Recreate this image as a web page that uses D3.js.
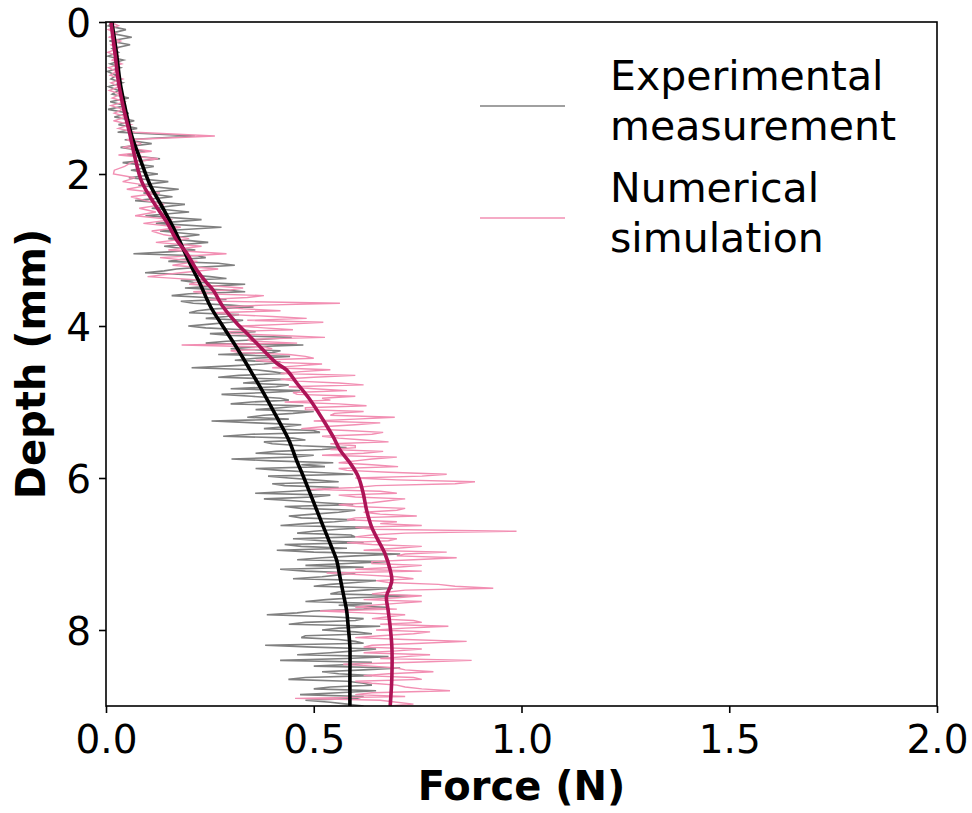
<!DOCTYPE html>
<html>
<head>
<meta charset="utf-8">
<script src="https://cdn.jsdelivr.net/npm/d3@7"></script>
<style>
  html, body { margin: 0; padding: 0; background: #fff; }
  svg { display: block; }
  text { font-family: "DejaVu Sans", sans-serif; }
</style>
</head>
<body>
<svg id="chart" width="972" height="813"></svg>
<script>
// ---------- DATA ----------
const xTicks = [0, 0.5, 1.0, 1.5, 2.0];
const yTicks = [0, 2, 4, 6, 8];
const legendLabels = [["Experimental", "measurement"], ["Numerical", "simulation"]];

// Experimental measurement trace: [depth (mm), force (N)]
const expTrace = [
  [0.00,0.020],[0.05,0.005],[0.10,0.048],[0.15,0.012],[0.20,0.062],[0.25,0.008],[0.30,0.058],[0.35,0.015],
  [0.40,0.030],[0.45,0.004],[0.50,0.042],[0.55,0.010],[0.60,0.035],[0.65,0.003],[0.70,0.025],[0.75,0.012],
  [0.80,0.040],[0.85,0.006],[0.90,0.030],[0.95,0.015],[1.00,0.055],[1.05,0.010],[1.10,0.048],[1.15,0.005],
  [1.20,0.055],[1.25,0.020],[1.30,0.068],[1.35,0.030],[1.40,0.075],[1.45,0.028],[1.50,0.214],[1.55,0.045],
  [1.60,0.110],[1.65,0.035],[1.70,0.095],[1.75,0.050],[1.80,0.130],[1.85,0.040],[1.90,0.115],[1.95,0.060],
  [2.00,0.125],[2.05,0.055],[2.10,0.150],[2.15,0.078],[2.20,0.175],[2.25,0.090],[2.30,0.160],[2.35,0.070],
  [2.40,0.190],[2.45,0.110],[2.50,0.200],[2.55,0.095],[2.60,0.230],[2.65,0.120],[2.70,0.278],[2.75,0.130],
  [2.80,0.225],[2.85,0.150],[2.90,0.246],[2.95,0.140],[3.00,0.215],[3.05,0.066],[3.10,0.240],[3.15,0.150],
  [3.20,0.310],[3.25,0.170],[3.30,0.094],[3.35,0.250],[3.40,0.180],[3.45,0.335],[3.50,0.190],[3.55,0.335],
  [3.60,0.158],[3.65,0.290],[3.70,0.210],[3.75,0.355],[3.80,0.220],[3.85,0.320],[3.90,0.240],[3.95,0.300],
  [4.00,0.198],[4.05,0.330],[4.10,0.250],[4.15,0.447],[4.20,0.290],[4.25,0.475],[4.30,0.300],[4.35,0.400],
  [4.40,0.443],[4.45,0.310],[4.50,0.380],[4.55,0.206],[4.60,0.400],[4.65,0.320],[4.70,0.430],[4.75,0.330],
  [4.80,0.410],[4.85,0.467],[4.90,0.278],[4.95,0.420],[5.00,0.350],[5.05,0.475],[5.10,0.360],[5.15,0.450],
  [5.20,0.340],[5.25,0.254],[5.30,0.470],[5.35,0.380],[5.40,0.515],[5.45,0.282],[5.50,0.480],[5.55,0.400],
  [5.60,0.579],[5.65,0.410],[5.70,0.500],[5.75,0.302],[5.80,0.547],[5.85,0.527],[5.90,0.420],[5.95,0.595],
  [6.00,0.440],[6.05,0.560],[6.10,0.430],[6.15,0.520],[6.20,0.359],[6.25,0.500],[6.30,0.450],[6.35,0.595],
  [6.40,0.470],[6.45,0.560],[6.50,0.440],[6.55,0.600],[6.60,0.480],[6.65,0.643],[6.70,0.500],[6.75,0.590],
  [6.80,0.450],[6.85,0.620],[6.90,0.470],[6.95,0.411],[7.00,0.708],[7.05,0.520],[7.10,0.675],[7.15,0.480],
  [7.20,0.419],[7.25,0.600],[7.30,0.520],[7.35,0.650],[7.40,0.540],[7.45,0.690],[7.50,0.560],[7.55,0.736],
  [7.60,0.530],[7.65,0.640],[7.70,0.675],[7.75,0.500],[7.80,0.387],[7.85,0.620],[7.90,0.480],[7.95,0.660],
  [8.00,0.520],[8.05,0.640],[8.10,0.470],[8.15,0.600],[8.20,0.383],[8.25,0.650],[8.30,0.540],[8.35,0.680],
  [8.40,0.419],[8.45,0.600],[8.50,0.708],[8.55,0.520],[8.60,0.640],[8.65,0.439],[8.70,0.620],[8.75,0.540],
  [8.80,0.650],[8.85,0.467],[8.90,0.603],[8.95,0.540],[9.00,0.620]
];
// Additional experimental samples in between (deeper part, denser noise)
const expTraceExtra = [
  [3.025,0.150],[3.075,0.220],[3.125,0.180],[3.175,0.270],[3.225,0.230],[3.275,0.140],[3.325,0.200],[3.375,0.290],
  [3.425,0.210],[3.475,0.260],[3.525,0.280],[3.575,0.200],[3.625,0.240],[3.675,0.180],[3.725,0.300],[3.775,0.260],
  [3.825,0.200],[3.875,0.290],[3.925,0.330],[3.975,0.250],[4.025,0.240],[4.075,0.360],[4.125,0.300],[4.175,0.380],
  [4.225,0.240],[4.275,0.350],[4.325,0.420],[4.375,0.270],[4.425,0.360],[4.475,0.420],[4.525,0.300],[4.575,0.360],
  [4.625,0.430],[4.675,0.270],[4.725,0.380],[4.775,0.440],[4.825,0.300],[4.875,0.390],[4.925,0.350],[4.975,0.440],
  [5.025,0.300],[5.075,0.420],[5.125,0.500],[5.175,0.380],[5.225,0.440],[5.275,0.360],[5.325,0.430],[5.375,0.500],
  [5.425,0.350],[5.475,0.450],[5.525,0.380],[5.575,0.470],[5.625,0.520],[5.675,0.360],[5.725,0.450],[5.775,0.400],
  [5.825,0.470],[5.875,0.360],[5.925,0.500],[5.975,0.390],[6.025,0.500],[6.075,0.400],[6.125,0.560],[6.175,0.450],
  [6.225,0.540],[6.275,0.380],[6.325,0.520],[6.375,0.430],[6.425,0.600],[6.475,0.500],[6.525,0.470],[6.575,0.550],
  [6.625,0.420],[6.675,0.560],[6.725,0.460],[6.775,0.600],[6.825,0.520],[6.875,0.430],[6.925,0.580],[6.975,0.500],
  [7.025,0.600],[7.075,0.460],[7.125,0.580],[7.175,0.620],[7.225,0.480],[7.275,0.560],[7.325,0.450],[7.375,0.600],
  [7.425,0.500],[7.475,0.620],[7.525,0.540],[7.575,0.600],[7.625,0.480],[7.675,0.560],[7.725,0.620],[7.775,0.460],
  [7.825,0.540],[7.875,0.600],[7.925,0.440],[7.975,0.560],[8.025,0.600],[8.075,0.480],[8.125,0.560],[8.175,0.620],
  [8.225,0.500],[8.275,0.600],[8.325,0.460],[8.375,0.580],[8.425,0.640],[8.475,0.500],[8.525,0.620],[8.575,0.560],
  [8.625,0.480],[8.675,0.580],[8.725,0.640],[8.775,0.500],[8.825,0.560],[8.875,0.620],[8.925,0.480],[8.975,0.580]
];

// Numerical simulation trace: [depth (mm), force (N)]
const simTrace = [
  [0.00,0.010],[0.05,0.030],[0.10,0.005],[0.15,0.025],[0.20,0.008],[0.25,0.035],[0.30,0.012],[0.35,0.028],
  [0.40,0.004],[0.45,0.030],[0.50,0.015],[0.55,0.038],[0.60,0.006],[0.65,0.025],[0.70,0.010],[0.75,0.040],
  [0.80,0.012],[0.85,0.032],[0.90,0.008],[0.95,0.035],[1.00,0.015],[1.05,0.045],[1.10,0.012],[1.15,0.040],
  [1.20,0.020],[1.25,0.050],[1.30,0.018],[1.35,0.060],[1.40,0.030],[1.45,0.070],[1.50,0.262],[1.55,0.050],
  [1.60,0.085],[1.65,0.040],[1.70,0.110],[1.75,0.030],[1.80,0.125],[1.85,0.060],[1.90,0.045],[1.95,0.020],
  [2.00,0.018],[2.05,0.070],[2.10,0.040],[2.15,0.100],[2.20,0.050],[2.25,0.130],[2.30,0.060],[2.35,0.095],
  [2.40,0.140],[2.45,0.080],[2.50,0.120],[2.55,0.070],[2.60,0.160],[2.65,0.090],[2.70,0.180],[2.75,0.110],
  [2.80,0.140],[2.85,0.200],[2.90,0.120],[2.95,0.230],[3.00,0.150],[3.05,0.290],[3.10,0.130],[3.15,0.220],
  [3.20,0.160],[3.25,0.270],[3.30,0.180],[3.35,0.100],[3.40,0.240],[3.45,0.200],[3.50,0.330],[3.55,0.210],
  [3.60,0.380],[3.65,0.250],[3.70,0.563],[3.75,0.280],[3.80,0.420],[3.85,0.300],[3.90,0.483],[3.95,0.523],
  [4.00,0.320],[4.05,0.450],[4.10,0.300],[4.15,0.527],[4.20,0.350],[4.25,0.182],[4.30,0.400],[4.35,0.320],
  [4.40,0.480],[4.45,0.360],[4.50,0.520],[4.55,0.400],[4.60,0.470],[4.65,0.600],[4.70,0.420],[4.75,0.560],
  [4.80,0.440],[4.85,0.580],[4.90,0.460],[4.95,0.520],[5.00,0.430],[5.05,0.627],[5.10,0.480],[5.15,0.550],
  [5.20,0.695],[5.25,0.500],[5.30,0.600],[5.35,0.470],[5.40,0.667],[5.45,0.520],[5.50,0.620],[5.55,0.540],
  [5.60,0.600],[5.65,0.667],[5.70,0.520],[5.75,0.640],[5.80,0.560],[5.85,0.703],[5.90,0.580],[5.95,0.820],
  [6.00,0.600],[6.05,0.888],[6.10,0.650],[6.15,0.491],[6.20,0.700],[6.25,0.600],[6.30,0.680],[6.35,0.560],
  [6.40,0.720],[6.45,0.620],[6.50,0.748],[6.55,0.580],[6.60,0.660],[6.65,0.600],[6.70,0.988],[6.75,0.640],
  [6.80,0.700],[6.85,0.580],[6.90,0.760],[6.95,0.620],[7.00,0.720],[7.05,0.844],[7.10,0.640],[7.15,0.760],
  [7.20,0.600],[7.25,0.531],[7.30,0.700],[7.35,0.650],[7.40,0.800],[7.45,0.932],[7.50,0.680],[7.55,0.760],
  [7.60,0.620],[7.65,0.700],[7.70,0.600],[7.75,0.515],[7.80,0.720],[7.85,0.640],[7.90,0.760],[7.95,0.824],
  [8.00,0.650],[8.05,0.740],[8.10,0.600],[8.15,0.868],[8.20,0.640],[8.25,0.760],[8.30,0.620],[8.35,0.720],
  [8.40,0.880],[8.45,0.571],[8.50,0.700],[8.55,0.788],[8.60,0.620],[8.65,0.760],[8.70,0.640],[8.75,0.720],
  [8.80,0.828],[8.85,0.600],[8.90,0.455],[8.95,0.700],[9.00,0.680]
];
// Additional simulation samples in between (deeper part, denser noise)
const simTraceExtra = [
  [3.525,0.300],[3.575,0.240],[3.625,0.340],[3.675,0.280],[3.725,0.380],[3.775,0.330],[3.825,0.260],[3.875,0.400],
  [3.925,0.340],[3.975,0.440],[4.025,0.380],[4.075,0.290],[4.125,0.420],[4.175,0.340],[4.225,0.460],[4.275,0.380],
  [4.325,0.300],[4.375,0.440],[4.425,0.500],[4.475,0.400],[4.525,0.460],[4.575,0.540],[4.625,0.420],[4.675,0.500],
  [4.725,0.460],[4.775,0.620],[4.825,0.500],[4.875,0.450],[4.925,0.600],[4.975,0.540],[5.025,0.560],[5.075,0.480],
  [5.125,0.620],[5.175,0.540],[5.225,0.600],[5.275,0.660],[5.325,0.520],[5.375,0.580],[5.425,0.640],[5.475,0.560],
  [5.525,0.680],[5.575,0.600],[5.625,0.540],[5.675,0.620],[5.725,0.700],[5.775,0.600],[5.825,0.640],[5.875,0.560],
  [5.925,0.680],[5.975,0.760],[6.025,0.700],[6.075,0.840],[6.125,0.600],[6.175,0.660],[6.225,0.560],[6.275,0.720],
  [6.325,0.640],[6.375,0.600],[6.425,0.700],[6.475,0.660],[6.525,0.600],[6.575,0.700],[6.625,0.760],[6.675,0.640],
  [6.725,0.720],[6.775,0.600],[6.825,0.680],[6.875,0.640],[6.925,0.700],[6.975,0.820],[7.025,0.700],[7.075,0.740],
  [7.125,0.640],[7.175,0.700],[7.225,0.760],[7.275,0.620],[7.325,0.740],[7.375,0.680],[7.425,0.840],[7.475,0.720],
  [7.525,0.640],[7.575,0.700],[7.625,0.760],[7.675,0.640],[7.725,0.700],[7.775,0.620],[7.825,0.680],[7.875,0.740],
  [7.925,0.660],[7.975,0.720],[8.025,0.780],[8.075,0.660],[8.125,0.720],[8.175,0.760],[8.225,0.620],[8.275,0.700],
  [8.325,0.780],[8.375,0.660],[8.425,0.740],[8.475,0.640],[8.525,0.720],[8.575,0.680],[8.625,0.740],[8.675,0.600],
  [8.725,0.700],[8.775,0.760],[8.825,0.640],[8.875,0.720],[8.925,0.660],[8.975,0.740]
];

// Smoothed (mean) curves: [depth (mm), force (N)]
const expMean = [
  [0.00,0.014],[0.40,0.025],[0.80,0.034],[1.13,0.046],[1.50,0.062],[1.80,0.082],[2.14,0.106],[2.45,0.137],
  [2.76,0.167],[3.13,0.198],[3.44,0.226],[3.75,0.252],[4.01,0.282],[4.28,0.314],[4.58,0.347],[4.88,0.379],
  [5.20,0.411],[5.50,0.440],[5.76,0.458],[5.98,0.475],[6.20,0.491],[6.42,0.507],[6.64,0.523],[6.91,0.543],
  [7.08,0.555],[7.30,0.563],[7.52,0.571],[7.74,0.579],[7.96,0.583],[8.22,0.587],[8.62,0.587],[9.00,0.587]
];
const simMean = [
  [0.00,0.012],[0.43,0.022],[0.79,0.030],[1.13,0.042],[1.49,0.058],[1.79,0.070],[2.10,0.086],[2.37,0.114],
  [2.63,0.146],[2.87,0.170],[3.04,0.194],[3.26,0.218],[3.43,0.242],[3.53,0.258],[3.75,0.282],[3.96,0.314],
  [4.14,0.347],[4.32,0.379],[4.49,0.411],[4.58,0.435],[4.75,0.459],[4.97,0.491],[5.24,0.523],[5.46,0.547],
  [5.63,0.563],[5.80,0.587],[5.98,0.607],[6.20,0.619],[6.42,0.627],[6.64,0.639],[6.82,0.655],[6.99,0.671],
  [7.21,0.684],[7.34,0.688],[7.43,0.684],[7.56,0.675],[7.74,0.679],[7.96,0.684],[8.22,0.688],[8.62,0.688],
  [9.00,0.684]
];

// ---------- DRAW ----------
const svg = d3.select("#chart");
const L = 106, R = 937, T = 22, B = 706;
const x = d3.scaleLinear().domain([0, 2]).range([L, R]);
const y = d3.scaleLinear().domain([0, 9]).range([T, B]);

svg.append("defs").append("clipPath").attr("id", "clip")
  .append("rect").attr("x", L).attr("y", T).attr("width", R - L).attr("height", B - T);

const byDepth = (a, b) => a[0] - b[0];
const expAll = expTrace.concat(expTraceExtra).sort(byDepth);
const simAll = simTrace.concat(simTraceExtra).sort(byDepth);

const line = d3.line().x(d => x(d[1])).y(d => y(d[0]));
const smooth = d3.line().x(d => x(d[1])).y(d => y(d[0])).curve(d3.curveCatmullRom);

const g = svg.append("g").attr("clip-path", "url(#clip)");
g.append("path").datum(expAll).attr("d", line)
  .attr("fill", "none").attr("stroke", "#808080").attr("stroke-width", 1.6);
g.append("path").datum(simAll).attr("d", line)
  .attr("fill", "none").attr("stroke", "#f28fb3").attr("stroke-width", 1.4);
g.append("path").datum(expMean).attr("d", smooth)
  .attr("fill", "none").attr("stroke", "#000").attr("stroke-width", 3.6);
g.append("path").datum(simMean).attr("d", smooth)
  .attr("fill", "none").attr("stroke", "#ad1457").attr("stroke-width", 3.6);

// Frame
svg.append("rect").attr("x", L).attr("y", T).attr("width", R - L).attr("height", B - T)
  .attr("fill", "none").attr("stroke", "#000").attr("stroke-width", 1.6);

// Axes
const xAxis = svg.append("g").attr("transform", `translate(0,${B})`)
  .call(d3.axisBottom(x).tickValues(xTicks).tickFormat(d3.format(".1f")).tickSize(7).tickPadding(8));
const yAxis = svg.append("g").attr("transform", `translate(${L},0)`)
  .call(d3.axisLeft(y).tickValues(yTicks).tickFormat(d3.format("d")).tickSize(7).tickPadding(8));
[xAxis, yAxis].forEach(a => {
  a.select(".domain").remove();
  a.selectAll(".tick line").attr("stroke", "#000").attr("stroke-width", 1.6);
  a.selectAll(".tick text").attr("font-size", 39).attr("fill", "#000")
    .style("font-family", "'DejaVu Sans', sans-serif");
});
xAxis.selectAll(".tick text").attr("dy", null).attr("y", null)
  .attr("transform", "translate(0,47)");
yAxis.selectAll(".tick text").attr("dy", "0.36em");

// Axis titles
svg.append("text").attr("x", (L + R) / 2).attr("y", 800).attr("text-anchor", "middle")
  .attr("font-size", 40).attr("font-weight", "bold").text("Force (N)");
svg.append("text").attr("transform", `translate(45,${(T + B) / 2}) rotate(-90)`)
  .attr("text-anchor", "middle").attr("font-size", 40).attr("font-weight", "bold").text("Depth (mm)");

// Legend
const legendColors = ["#808080", "#f28fb3"];
const legendY = [106, 218];
legendLabels.forEach((lab, i) => {
  svg.append("line").attr("x1", 480).attr("x2", 565).attr("y1", legendY[i]).attr("y2", legendY[i])
    .attr("stroke", legendColors[i]).attr("stroke-width", 1.6);
  lab.forEach((t, j) => {
    svg.append("text").attr("x", 610).attr("y", legendY[i] - 16 + j * 50)
      .attr("font-size", 41).attr("fill", "#000").text(t);
  });
});
</script>
</body>
</html>
